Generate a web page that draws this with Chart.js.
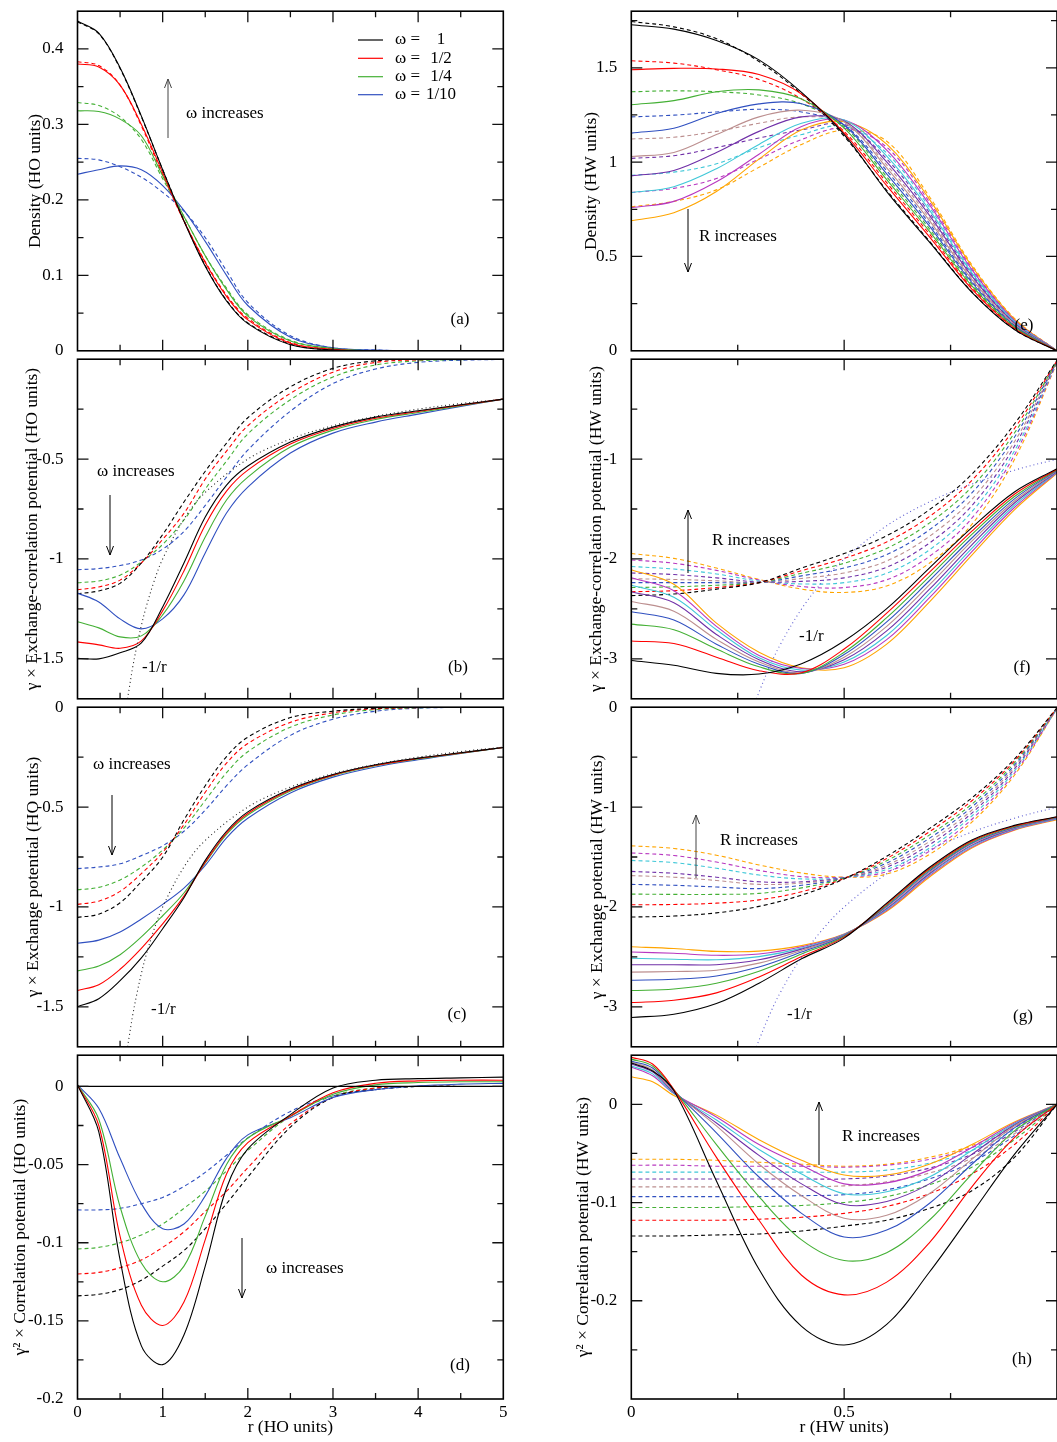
<!DOCTYPE html>
<html><head><meta charset="utf-8">
<script src="https://cdn.jsdelivr.net/npm/chart.js@4.4.0/dist/chart.umd.min.js"></script>
<style>
html,body{margin:0;padding:0;background:#fff;}
#wrap{position:relative;width:1057px;height:1442px;overflow:hidden;background:#fff;}
</style></head>
<body><div id="wrap"></div>
<script>
// ---------------- DATA ----------------
const rHO  = [0,0.25,0.5,0.75,1,1.25,1.5,1.75,2,2.5,3,3.5,4,4.5,5];
const rHW  = [0,0.1,0.2,0.3,0.4,0.5,0.6,0.7,0.8,0.9,1];
const rHWh = [0,0.05,0.1,0.2,0.3,0.4,0.5,0.6,0.7,0.8,0.9,1];
const omegaLabels = ['1','1/2','1/4','1/10'];
const invHOx = [0.588,0.6,0.65,0.7,0.75,0.8,0.9,1,1.25,1.5,2,2.5,3,3.5,4,4.5,5];
const invHOy = [-1.70,-1.667,-1.538,-1.429,-1.333,-1.25,-1.111,-1,-0.8,-0.667,-0.5,-0.4,-0.333,-0.286,-0.25,-0.222,-0.2];
const invHWx = [0.294,0.3,0.325,0.35,0.4,0.45,0.5,0.6,0.7,0.8,0.9,1];
const invHWy = [-3.4,-3.333,-3.077,-2.857,-2.5,-2.222,-2,-1.667,-1.429,-1.25,-1.111,-1];
const zeroX = [0,5];
const zeroY = [0,0];

// tick label values
const aYTicks = [0,0.1,0.2,0.3,0.4];
const bYTicks = [-1.5,-1,-0.5];
const cYTicks = [-1.5,-1,-0.5,0];
const dYTicks = [-0.2,-0.15,-0.1,-0.05,0];
const dXTicks = [0,1,2,3,4,5];
const eYTicks = [0,0.5,1,1.5];
const fYTicks = [-3,-2,-1];
const gYTicks = [-3,-2,-1,0];
const hYTicks = [-0.2,-0.1,0];
const hXTicks = [0,0.5];

// (a) density, HO  [omega = 1, 1/2, 1/4, 1/10]
const aSolid = [
 [0.437,0.421,0.375,0.311,0.240,0.172,0.112,0.066,0.036,0.008,0.001,0,0,0,0],
 [0.380,0.376,0.352,0.300,0.236,0.172,0.117,0.072,0.041,0.010,0.002,0,0,0,0],
 [0.318,0.317,0.307,0.285,0.232,0.178,0.126,0.081,0.046,0.013,0.003,0,0,0,0],
 [0.234,0.240,0.245,0.240,0.219,0.186,0.145,0.100,0.060,0.018,0.004,0.001,0,0,0]];
const aDash = [
 [0.436,0.420,0.374,0.310,0.240,0.173,0.113,0.067,0.037,0.009,0.001,0,0,0,0],
 [0.383,0.378,0.352,0.298,0.233,0.172,0.118,0.074,0.043,0.011,0.002,0,0,0,0],
 [0.329,0.325,0.310,0.280,0.228,0.178,0.126,0.083,0.048,0.014,0.003,0,0,0,0],
 [0.255,0.253,0.244,0.230,0.210,0.185,0.150,0.106,0.064,0.020,0.004,0.001,0,0,0]];
// (b) xc potential, HO
const bSolid = [
 [-1.497,-1.50,-1.47,-1.42,-1.24,-1.02,-0.79,-0.63,-0.535,-0.415,-0.34,-0.29,-0.258,-0.228,-0.200],
 [-1.415,-1.43,-1.447,-1.41,-1.26,-1.06,-0.83,-0.66,-0.555,-0.425,-0.347,-0.296,-0.262,-0.23,-0.200],
 [-1.314,-1.345,-1.39,-1.385,-1.28,-1.11,-0.89,-0.705,-0.59,-0.44,-0.355,-0.302,-0.267,-0.233,-0.200],
 [-1.171,-1.215,-1.30,-1.350,-1.30,-1.18,-0.97,-0.77,-0.64,-0.47,-0.37,-0.315,-0.275,-0.236,-0.200]];
const bDash = [
 [-1.174,-1.16,-1.122,-1.02,-0.878,-0.715,-0.561,-0.42,-0.293,-0.138,-0.046,-0.008,0,0,0],
 [-1.154,-1.14,-1.106,-1.02,-0.902,-0.772,-0.60,-0.46,-0.333,-0.171,-0.065,-0.016,-0.003,0,0],
 [-1.119,-1.11,-1.081,-1.015,-0.927,-0.805,-0.65,-0.51,-0.374,-0.203,-0.089,-0.029,-0.008,-0.002,0],
 [-1.054,-1.048,-1.033,-1.005,-0.951,-0.862,-0.732,-0.59,-0.455,-0.26,-0.122,-0.049,-0.016,-0.005,-0.001]];
// (c) x potential, HO
const cSolid = [
 [-1.499,-1.459,-1.369,-1.255,-1.109,-0.954,-0.767,-0.621,-0.524,-0.41,-0.337,-0.288,-0.255,-0.228,-0.202],
 [-1.418,-1.389,-1.312,-1.207,-1.085,-0.946,-0.776,-0.629,-0.532,-0.415,-0.34,-0.291,-0.257,-0.229,-0.202],
 [-1.32,-1.296,-1.239,-1.15,-1.044,-0.93,-0.78,-0.637,-0.54,-0.42,-0.343,-0.293,-0.259,-0.23,-0.202],
 [-1.182,-1.166,-1.125,-1.06,-0.987,-0.906,-0.792,-0.654,-0.556,-0.429,-0.35,-0.299,-0.263,-0.231,-0.202]];
const cDash = [
 [-1.052,-1.036,-0.979,-0.873,-0.751,-0.564,-0.393,-0.247,-0.15,-0.052,-0.02,-0.005,0,0,0],
 [-0.987,-0.971,-0.922,-0.833,-0.727,-0.588,-0.426,-0.28,-0.182,-0.076,-0.028,-0.008,-0.002,0,0],
 [-0.914,-0.902,-0.865,-0.80,-0.715,-0.605,-0.467,-0.328,-0.223,-0.10,-0.039,-0.012,-0.003,0,0],
 [-0.808,-0.80,-0.784,-0.743,-0.694,-0.621,-0.515,-0.393,-0.288,-0.141,-0.06,-0.02,-0.005,-0.001,0]];
// (d) correlation potential, HO
const dSolid = [
 [0.001,-0.029,-0.111,-0.166,-0.178,-0.159,-0.115,-0.065,-0.040,-0.018,-0.001,0.004,0.005,0.0055,0.006],
 [0.001,-0.025,-0.096,-0.14,-0.153,-0.138,-0.098,-0.056,-0.036,-0.019,-0.004,0.002,0.0036,0.004,0.004],
 [0.001,-0.021,-0.077,-0.113,-0.125,-0.115,-0.083,-0.05,-0.033,-0.019,-0.005,0.001,0.0025,0.003,0.003],
 [0.001,-0.014,-0.046,-0.075,-0.091,-0.088,-0.07,-0.046,-0.031,-0.02,-0.007,-0.002,0.0004,0.0015,0.002]];
const dDash = [
 [-0.134,-0.133,-0.13,-0.124,-0.115,-0.105,-0.091,-0.075,-0.058,-0.026,-0.007,-0.002,0,0,0],
 [-0.12,-0.119,-0.116,-0.111,-0.103,-0.093,-0.08,-0.067,-0.052,-0.024,-0.007,-0.001,0,0,0],
 [-0.104,-0.103,-0.10,-0.095,-0.088,-0.078,-0.067,-0.054,-0.041,-0.019,-0.006,-0.001,0,0,0],
 [-0.079,-0.079,-0.078,-0.075,-0.071,-0.064,-0.055,-0.044,-0.033,-0.016,-0.006,-0.002,0,0,0]];
// (e) density, HW  [9 values of R]
const eSolid = [
 [1.728,1.705,1.645,1.542,1.370,1.146,0.844,0.577,0.310,0.112,0],
 [1.490,1.497,1.494,1.464,1.361,1.154,0.875,0.605,0.327,0.119,0],
 [1.304,1.326,1.373,1.383,1.335,1.180,0.907,0.634,0.344,0.126,0],
 [1.154,1.180,1.258,1.309,1.309,1.197,0.938,0.662,0.362,0.133,0],
 [1.030,1.051,1.146,1.240,1.275,1.214,0.970,0.691,0.379,0.140,0],
 [0.927,0.956,1.051,1.163,1.240,1.218,1.001,0.719,0.396,0.147,0],
 [0.839,0.870,0.965,1.094,1.206,1.223,1.032,0.747,0.413,0.154,0],
 [0.758,0.792,0.896,1.042,1.189,1.223,1.064,0.776,0.430,0.161,0],
 [0.689,0.732,0.844,1.016,1.171,1.214,1.095,0.804,0.448,0.168,0]];
const eDash = [
 [1.745,1.717,1.654,1.533,1.361,1.137,0.850,0.582,0.313,0.114,0],
 [1.537,1.525,1.490,1.438,1.335,1.163,0.891,0.620,0.336,0.123,0],
 [1.373,1.378,1.373,1.356,1.309,1.189,0.922,0.648,0.353,0.130,0],
 [1.240,1.249,1.266,1.280,1.266,1.197,0.954,0.676,0.370,0.137,0],
 [1.123,1.132,1.163,1.206,1.240,1.210,0.985,0.705,0.387,0.144,0],
 [1.020,1.034,1.077,1.128,1.171,1.200,1.017,0.733,0.405,0.151,0],
 [0.930,0.947,0.991,1.077,1.146,1.190,1.048,0.762,0.422,0.158,0],
 [0.839,0.861,0.913,1.016,1.120,1.180,1.079,0.790,0.439,0.165,0],
 [0.763,0.792,0.853,0.973,1.094,1.170,1.111,0.818,0.456,0.172,0]];
// (f) xc potential, HW
const fSolid = [
 [-3.016,-3.064,-3.145,-3.152,-3.048,-2.821,-2.497,-2.091,-1.686,-1.329,-1.096],
 [-2.821,-2.847,-2.983,-3.119,-3.139,-2.902,-2.542,-2.134,-1.722,-1.352,-1.102],
 [-2.652,-2.708,-2.902,-3.080,-3.145,-2.934,-2.588,-2.176,-1.754,-1.375,-1.107],
 [-2.529,-2.610,-2.853,-3.054,-3.145,-2.957,-2.630,-2.218,-1.790,-1.398,-1.113],
 [-2.425,-2.523,-2.805,-3.032,-3.139,-2.983,-2.675,-2.260,-1.822,-1.420,-1.118],
 [-2.328,-2.438,-2.756,-3.009,-3.129,-3.009,-2.720,-2.305,-1.858,-1.440,-1.124],
 [-2.263,-2.383,-2.708,-2.990,-3.113,-3.032,-2.766,-2.348,-1.894,-1.462,-1.130],
 [-2.189,-2.318,-2.675,-2.967,-3.097,-3.054,-2.808,-2.390,-1.926,-1.485,-1.135],
 [-2.108,-2.254,-2.643,-2.934,-3.090,-3.090,-2.853,-2.432,-1.962,-1.508,-1.141]];
const fDash = [
 [-2.367,-2.351,-2.302,-2.237,-2.091,-1.946,-1.767,-1.508,-1.151,-0.649,-0.010],
 [-2.328,-2.318,-2.286,-2.237,-2.117,-1.994,-1.829,-1.576,-1.213,-0.694,-0.015],
 [-2.286,-2.279,-2.263,-2.237,-2.143,-2.043,-1.894,-1.641,-1.278,-0.739,-0.020],
 [-2.237,-2.237,-2.237,-2.237,-2.169,-2.091,-1.955,-1.709,-1.339,-0.781,-0.022],
 [-2.198,-2.205,-2.218,-2.237,-2.195,-2.140,-2.020,-1.774,-1.404,-0.827,-0.025],
 [-2.140,-2.156,-2.189,-2.231,-2.224,-2.189,-2.082,-1.842,-1.466,-0.872,-0.028],
 [-2.075,-2.101,-2.150,-2.221,-2.250,-2.237,-2.143,-1.910,-1.527,-0.918,-0.030],
 [-2.010,-2.043,-2.114,-2.211,-2.276,-2.286,-2.208,-1.975,-1.592,-0.960,-0.033],
 [-1.946,-1.994,-2.091,-2.205,-2.302,-2.335,-2.270,-2.043,-1.654,-1.005,-0.035]];
// (g) x potential, HW
const gSolid = [
 [-3.106,-3.074,-2.967,-2.763,-2.519,-2.312,-1.962,-1.605,-1.329,-1.183,-1.096],
 [-2.957,-2.934,-2.860,-2.701,-2.497,-2.302,-1.971,-1.618,-1.339,-1.190,-1.099],
 [-2.837,-2.821,-2.763,-2.643,-2.471,-2.296,-1.981,-1.628,-1.349,-1.196,-1.102],
 [-2.733,-2.724,-2.691,-2.601,-2.451,-2.289,-1.991,-1.641,-1.359,-1.203,-1.106],
 [-2.652,-2.646,-2.633,-2.562,-2.435,-2.283,-2.001,-1.654,-1.368,-1.209,-1.109],
 [-2.578,-2.578,-2.578,-2.529,-2.422,-2.280,-2.014,-1.667,-1.381,-1.213,-1.112],
 [-2.513,-2.523,-2.529,-2.497,-2.412,-2.276,-2.023,-1.676,-1.391,-1.219,-1.115],
 [-2.451,-2.464,-2.484,-2.471,-2.399,-2.273,-2.033,-1.689,-1.401,-1.226,-1.119],
 [-2.399,-2.416,-2.445,-2.442,-2.387,-2.270,-2.043,-1.702,-1.410,-1.232,-1.125]];
const gDash = [
 [-2.101,-2.091,-2.059,-1.994,-1.881,-1.719,-1.492,-1.216,-0.908,-0.519,-0.006],
 [-1.978,-1.975,-1.962,-1.929,-1.848,-1.715,-1.514,-1.248,-0.937,-0.538,-0.007],
 [-1.871,-1.874,-1.874,-1.864,-1.809,-1.712,-1.537,-1.281,-0.970,-0.558,-0.009],
 [-1.774,-1.783,-1.800,-1.816,-1.783,-1.709,-1.560,-1.313,-0.999,-0.580,-0.010],
 [-1.686,-1.702,-1.735,-1.774,-1.761,-1.709,-1.582,-1.346,-1.031,-0.600,-0.012],
 [-1.644,-1.663,-1.702,-1.748,-1.748,-1.706,-1.602,-1.378,-1.060,-0.619,-0.013],
 [-1.534,-1.556,-1.612,-1.680,-1.719,-1.706,-1.625,-1.411,-1.089,-0.639,-0.014],
 [-1.459,-1.485,-1.550,-1.634,-1.696,-1.702,-1.647,-1.443,-1.122,-0.661,-0.015],
 [-1.388,-1.414,-1.482,-1.579,-1.660,-1.702,-1.670,-1.475,-1.151,-0.681,-0.016]];
// (h) correlation potential, HW  (solid on rHWh, dashed on rHW)
const hSolid = [
 [0.042,0.034,0.014,-0.078,-0.168,-0.226,-0.245,-0.224,-0.171,-0.111,-0.051,0],
 [0.048,0.041,0.015,-0.054,-0.118,-0.174,-0.194,-0.181,-0.141,-0.084,-0.034,0],
 [0.046,0.039,0.015,-0.041,-0.094,-0.138,-0.159,-0.151,-0.118,-0.071,-0.027,0],
 [0.044,0.037,0.014,-0.029,-0.074,-0.111,-0.135,-0.128,-0.101,-0.061,-0.024,0],
 [0.043,0.035,0.013,-0.022,-0.061,-0.093,-0.116,-0.113,-0.091,-0.056,-0.022,0],
 [0.041,0.033,0.012,-0.019,-0.052,-0.081,-0.102,-0.099,-0.081,-0.051,-0.021,0],
 [0.039,0.031,0.011,-0.016,-0.046,-0.071,-0.091,-0.089,-0.074,-0.047,-0.020,0],
 [0.038,0.029,0.011,-0.013,-0.041,-0.062,-0.081,-0.080,-0.067,-0.044,-0.019,0],
 [0.028,0.023,0.009,-0.011,-0.036,-0.057,-0.072,-0.072,-0.061,-0.041,-0.018,0]];
const hDash = [
 [-0.134,-0.134,-0.133,-0.132,-0.129,-0.124,-0.118,-0.106,-0.088,-0.054,0],
 [-0.118,-0.118,-0.118,-0.117,-0.115,-0.111,-0.104,-0.091,-0.071,-0.041,0],
 [-0.105,-0.105,-0.105,-0.104,-0.103,-0.100,-0.094,-0.082,-0.064,-0.036,0],
 [-0.094,-0.094,-0.094,-0.094,-0.093,-0.092,-0.087,-0.076,-0.059,-0.032,0],
 [-0.084,-0.084,-0.084,-0.084,-0.084,-0.083,-0.079,-0.070,-0.055,-0.030,0],
 [-0.076,-0.076,-0.076,-0.076,-0.076,-0.076,-0.073,-0.065,-0.051,-0.028,0],
 [-0.069,-0.069,-0.069,-0.069,-0.069,-0.069,-0.067,-0.060,-0.047,-0.026,0],
 [-0.062,-0.062,-0.063,-0.063,-0.063,-0.064,-0.062,-0.056,-0.044,-0.024,0],
 [-0.056,-0.056,-0.057,-0.059,-0.061,-0.063,-0.061,-0.054,-0.042,-0.022,0]];

// ---------------- STYLE ----------------
const COLS = ['#000000','#ff0000','#44b035','#3050c0','#bc8f8f','#7030a8','#40c8d8','#b838c0','#ffa500'];
const FONT = "'Liberation Serif','Times New Roman',serif";
Chart.defaults.font.family = FONT;
Chart.defaults.font.size = 17;
Chart.defaults.color = '#000';

function LINE(xs, ys, color, dash, w) {
  return { data: xs.map((x, i) => ({x: x, y: ys[i]})), borderColor: color, borderWidth: w || 1.1,
    borderDash: dash || [], pointRadius: 0, fill: false, tension: 0.35 };
}
function seriesSet(xs, solid, dash, xsDash) {
  const out = [];
  solid.forEach((ys, k) => out.push(LINE(xs, ys, COLS[k])));
  dash.forEach((ys, k) => out.push(LINE(xsDash || xs, ys, COLS[k], [4, 3])));
  return out;
}
function fmt(v) { return String(Math.round(v * 1000) / 1000); }

function framePlugin(p, cl, ct) {
  return {
    id: 'frame_' + p.name,
    afterDraw(chart) {
      const ctx = chart.ctx, a = chart.chartArea, xs = chart.scales.x, ys = chart.scales.y;
      ctx.save();
      ctx.strokeStyle = '#111'; ctx.lineWidth = 1.3;
      const tick = (arr, len, isX) => arr.forEach(v => {
        ctx.beginPath();
        if (isX) { const px = xs.getPixelForValue(v);
          ctx.moveTo(px, a.top); ctx.lineTo(px, a.top + len);
          ctx.moveTo(px, a.bottom); ctx.lineTo(px, a.bottom - len);
        } else { const py = ys.getPixelForValue(v);
          ctx.moveTo(a.left, py); ctx.lineTo(a.left + len, py);
          ctx.moveTo(a.right, py); ctx.lineTo(a.right - len, py);
        }
        ctx.stroke();
      });
      tick(p.xMaj, 11, true); tick(p.xMin, 6, true);
      tick(p.yMaj, 11, false); tick(p.yMin, 6, false);
      ctx.lineWidth = 1.6; ctx.strokeStyle = '#000';
      ctx.strokeRect(a.left, a.top, a.right - a.left, a.bottom - a.top);
      // annotations (page coordinates)
      ctx.font = '17px ' + FONT; ctx.fillStyle = '#000'; ctx.textBaseline = 'middle';
      (p.notes || []).forEach(n => {
        if (n.t === 'text') {
          ctx.textAlign = n.align || 'left';
          ctx.fillText(n.s, n.x - cl, n.y - ct);
        } else if (n.t === 'arrow') {
          const x = n.x - cl, y1 = n.y1 - ct, y2 = n.y2 - ct, dir = y2 > y1 ? 1 : -1;
          ctx.strokeStyle = n.c || '#000'; ctx.lineWidth = 1;
          ctx.beginPath(); ctx.moveTo(x, y1); ctx.lineTo(x, y2); ctx.stroke();
          ctx.beginPath(); ctx.moveTo(x - 3.5, y2 - dir * 9); ctx.lineTo(x, y2); ctx.lineTo(x + 3.5, y2 - dir * 9); ctx.stroke();
        } else if (n.t === 'leg') {
          ctx.strokeStyle = n.c; ctx.lineWidth = 1.2;
          ctx.beginPath(); ctx.moveTo(n.x1 - cl, n.y - ct); ctx.lineTo(n.x2 - cl, n.y - ct); ctx.stroke();
        }
      });
      ctx.restore();
    }
  };
}

function panel(p) {
  const bottom = !!p.xTitle;
  const cl = p.col === 0 ? 0 : 560;
  const cw = p.col === 0 ? 520 : 497;
  const areaL = p.col === 0 ? 77.5 : 631.3;
  const areaR = p.col === 0 ? 503.3 : 1057;
  const padT = 12, padB = bottom ? 2 : 12, xH = 39;
  const ct = p.areaT - padT;
  const ch = padT + (p.areaB - p.areaT) + (bottom ? xH : 0) + padB;
  const cv = document.createElement('canvas');
  cv.width = cw; cv.height = ch;
  cv.style.cssText = 'position:absolute;left:' + cl + 'px;top:' + ct + 'px;width:' + cw + 'px;height:' + ch + 'px';
  document.getElementById('wrap').appendChild(cv);
  const xOpts = { type: 'linear', min: p.xmin, max: p.xmax, bounds: 'data', display: bottom,
    grid: {display: false}, border: {display: false},
    afterBuildTicks: s => { s.ticks = (p.xTicks || []).map(v => ({value: v})); },
    ticks: {padding: -5, maxRotation: 0, autoSkip: false, callback: v => fmt(v)},
    title: {display: bottom, text: p.xTitle || '', padding: 0, font: {size: 17.5}} };
  if (bottom) xOpts.afterFit = s => { s.height = xH; };
  new Chart(cv, {
    type: 'line',
    data: {datasets: p.datasets},
    options: {
      responsive: false, animation: false, devicePixelRatio: 1,
      layout: {padding: {left: p.padL, right: cw - (areaR - cl), top: padT, bottom: padB}},
      plugins: {legend: {display: false}, tooltip: {enabled: false}},
      scales: {
        x: xOpts,
        y: { type: 'linear', min: p.ymin, max: p.ymax, bounds: 'data',
          grid: {display: false}, border: {display: false},
          afterBuildTicks: s => { s.ticks = p.yTicks.map(v => ({value: v})); },
          afterFit: s => { s.width = areaL - cl - p.padL; },
          ticks: {padding: 6, autoSkip: false, callback: v => fmt(v)},
          title: {display: true, text: p.yTitle, padding: 0, font: {size: 17.5}} }
      }
    },
    plugins: [framePlugin(p, cl, ct)]
  });
}

const HOxMaj = [1,2,3,4], HOxMin = [0.5,1.5,2.5,3.5,4.5];
const HWxMaj = [0.5], HWxMin = [0.25,0.75];
const leg = [];
omegaLabels.forEach((s, k) => {
  const y = [40,58.3,76.7,94.7][k];
  leg.push({t: 'leg', x1: 358, x2: 383, y: y, c: COLS[k]});
  leg.push({t: 'text', s: 'ω =', x: 395, y: y});
  leg.push({t: 'text', s: s, x: 441, y: y, align: 'center'});
});

panel({name: 'a', col: 0, areaT: 7, areaB: 355, padL: 25, xmin: 0, xmax: 5, ymin: 0, ymax: 0.45,
  yTicks: aYTicks, yTitle: 'Density (HO units)',
  xMaj: HOxMaj, xMin: HOxMin, yMaj: [0.1,0.2,0.3,0.4], yMin: [0.05,0.15,0.25,0.35],
  datasets: seriesSet(rHO, aSolid, aDash),
  notes: leg.concat([
    {t: 'text', s: 'ω increases', x: 186, y: 114},
    {t: 'arrow', x: 168, y1: 138, y2: 79, c: '#444'},
    {t: 'text', s: '(a)', x: 460, y: 320, align: 'center'}])});

panel({name: 'b', col: 0, areaT: 355, areaB: 703, padL: 21.5, xmin: 0, xmax: 5, ymin: -1.7, ymax: 0,
  yTicks: bYTicks, yTitle: 'γ × Exchange-correlation potential (HO units)',
  xMaj: HOxMaj, xMin: HOxMin, yMaj: [-1.5,-1,-0.5], yMin: [-1.25,-0.75,-0.25],
  datasets: [LINE(invHOx, invHOy, '#222', [1, 3])].concat(seriesSet(rHO, bSolid, bDash)),
  notes: [
    {t: 'text', s: 'ω increases', x: 97, y: 472},
    {t: 'arrow', x: 110, y1: 495, y2: 555},
    {t: 'text', s: '-1/r', x: 142, y: 668},
    {t: 'text', s: '(b)', x: 458, y: 668, align: 'center'}]});

panel({name: 'c', col: 0, areaT: 703, areaB: 1051, padL: 22.5, xmin: 0, xmax: 5, ymin: -1.7, ymax: 0,
  yTicks: cYTicks, yTitle: 'γ × Exchange potential (HO units)',
  xMaj: HOxMaj, xMin: HOxMin, yMaj: [-1.5,-1,-0.5], yMin: [-1.25,-0.75,-0.25],
  datasets: [LINE(invHOx, invHOy, '#222', [1, 3])].concat(seriesSet(rHO, cSolid, cDash)),
  notes: [
    {t: 'text', s: 'ω increases', x: 93, y: 765},
    {t: 'arrow', x: 112, y1: 795, y2: 855},
    {t: 'text', s: '-1/r', x: 151, y: 1010},
    {t: 'text', s: '(c)', x: 457, y: 1015, align: 'center'}]});

panel({name: 'd', col: 0, areaT: 1051, areaB: 1399, padL: 10, xmin: 0, xmax: 5, ymin: -0.2, ymax: 0.02,
  yTicks: dYTicks, xTicks: dXTicks, yTitle: 'γ² × Correlation potential (HO units)', xTitle: 'r (HO units)',
  xMaj: HOxMaj, xMin: HOxMin, yMaj: [-0.15,-0.1,-0.05,0], yMin: [-0.175,-0.125,-0.075,-0.025],
  datasets: [LINE(zeroX, zeroY, '#000', [], 1.3)].concat(seriesSet(rHO, dSolid, dDash)),
  notes: [
    {t: 'text', s: 'ω increases', x: 266, y: 1269},
    {t: 'arrow', x: 242, y1: 1238, y2: 1298},
    {t: 'text', s: '(d)', x: 460, y: 1366, align: 'center'}]});

panel({name: 'e', col: 1, areaT: 7, areaB: 355, padL: 20.5, xmin: 0, xmax: 1, ymin: 0, ymax: 1.8,
  yTicks: eYTicks, yTitle: 'Density (HW units)',
  xMaj: HWxMaj, xMin: HWxMin, yMaj: [0.5,1,1.5], yMin: [0.25,0.75,1.25,1.75],
  datasets: seriesSet(rHW, eSolid, eDash),
  notes: [
    {t: 'text', s: 'R increases', x: 699, y: 237},
    {t: 'arrow', x: 688, y1: 209, y2: 272},
    {t: 'text', s: '(e)', x: 1024, y: 326, align: 'center'}]});

panel({name: 'f', col: 1, areaT: 355, areaB: 703, padL: 26, xmin: 0, xmax: 1, ymin: -3.4, ymax: 0,
  yTicks: fYTicks, yTitle: 'γ × Exchange-correlation potential (HW units)',
  xMaj: HWxMaj, xMin: HWxMin, yMaj: [-3,-2,-1], yMin: [-2.5,-1.5,-0.5],
  datasets: [LINE(invHWx, invHWy, '#5a5ad0', [1, 3])].concat(seriesSet(rHW, fSolid, fDash)),
  notes: [
    {t: 'text', s: 'R increases', x: 712, y: 541},
    {t: 'arrow', x: 688, y1: 573, y2: 510},
    {t: 'text', s: '-1/r', x: 799, y: 637},
    {t: 'text', s: '(f)', x: 1022, y: 668, align: 'center'}]});

panel({name: 'g', col: 1, areaT: 703, areaB: 1051, padL: 27, xmin: 0, xmax: 1, ymin: -3.4, ymax: 0,
  yTicks: gYTicks, yTitle: 'γ × Exchange potential (HW units)',
  xMaj: HWxMaj, xMin: HWxMin, yMaj: [-3,-2,-1], yMin: [-2.5,-1.5,-0.5],
  datasets: [LINE(invHWx, invHWy, '#5a5ad0', [1, 3])].concat(seriesSet(rHW, gSolid, gDash)),
  notes: [
    {t: 'text', s: 'R increases', x: 720, y: 841},
    {t: 'arrow', x: 696, y1: 878, y2: 815, c: '#444'},
    {t: 'text', s: '-1/r', x: 787, y: 1015},
    {t: 'text', s: '(g)', x: 1023, y: 1017, align: 'center'}]});

panel({name: 'h', col: 1, areaT: 1051, areaB: 1399, padL: 13, xmin: 0, xmax: 1, ymin: -0.3, ymax: 0.05,
  yTicks: hYTicks, xTicks: hXTicks, yTitle: 'γ² × Correlation potential (HW units)', xTitle: 'r (HW units)',
  xMaj: HWxMaj, xMin: HWxMin, yMaj: [-0.2,-0.1,0], yMin: [-0.25,-0.15,-0.05],
  datasets: seriesSet(rHWh, hSolid, hDash, rHW),
  notes: [
    {t: 'text', s: 'R increases', x: 842, y: 1137},
    {t: 'arrow', x: 819, y1: 1165, y2: 1102},
    {t: 'text', s: '(h)', x: 1022, y: 1360, align: 'center'}]});
</script>
</body></html>
